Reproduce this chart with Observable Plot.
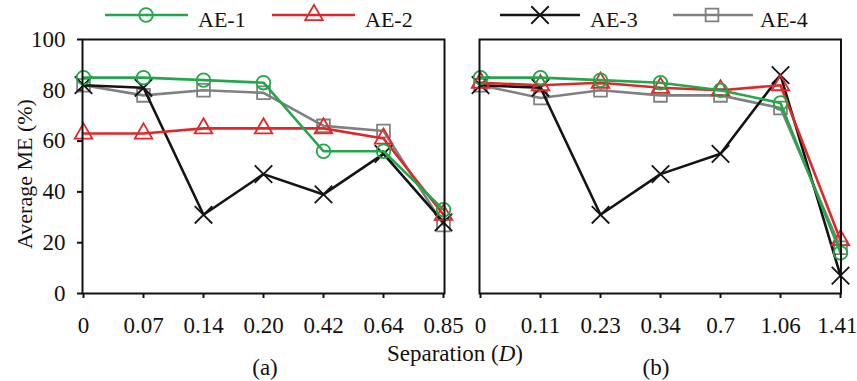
<!DOCTYPE html>
<html>
<head>
<meta charset="utf-8">
<script src="https://cdn.jsdelivr.net/npm/d3@7"></script>
<script src="https://cdn.jsdelivr.net/npm/@observablehq/plot@0.6"></script>
<style>
  html, body { margin: 0; padding: 0; background: #fff; }
  #wrap { position: relative; width: 857px; height: 381px; overflow: hidden; background: #fff; font-family: "Liberation Serif", "Times New Roman", serif; }
  #wrap svg { position: absolute; top: 0; overflow: visible; }
  #wrap svg g[aria-label^="x-axis"] line, #wrap svg g[aria-label^="x-axis"] path,
  #wrap svg g[aria-label^="y-axis"] line, #wrap svg g[aria-label^="y-axis"] path { stroke-width: 2px; }
</style>
</head>
<body>
<div id="wrap"></div>
<script>
// ---- data ----
const seriesNames = ["AE-1", "AE-2", "AE-3", "AE-4"];
const sepA = ["0", "0.07", "0.14", "0.20", "0.42", "0.64", "0.85"];
const sepB = ["0", "0.11", "0.23", "0.34", "0.7", "1.06", "1.41"];
const yTicks = [0, 20, 40, 60, 80, 100];

const a_AE1 = [85, 85, 84, 83, 56, 56, 33];
const a_AE2 = [63, 63, 65, 65, 65, 61, 31];
const a_AE3 = [82, 81, 31, 47, 39, 55, 28];
const a_AE4 = [82, 78, 80, 79, 66, 64, 27];

const b_AE1 = [85, 85, 84, 83, 80, 75, 16];
const b_AE2 = [83, 82, 83, 81, 80, 82, 21];
const b_AE3 = [82, 81, 31, 47, 55, 86, 7];
const b_AE4 = [82, 77, 80, 78, 78, 73, 18];

const xLabel = "Separation (";
const xLabelVar = "D";
const yLabel = "Average ME (%)";
const panelLabels = ["(a)", "(b)"];

// ---- styles ----
const colors = ["#22a84a", "#e0282a", "#141414", "#808080"];
const symbols = ["circle", "triangle", "times", "square"];
const radii = [6.8, 6.5, 8, 7.2];
const drawOrder = [3, 2, 1, 0];

function rows(cats, arrays) {
  const out = [];
  arrays.forEach((vals, i) => vals.forEach((v, j) => out.push({sep: cats[j], me: v, s: seriesNames[i], i})));
  return out;
}

function panel(cats, arrays, opts) {
  const data = rows(cats, arrays);
  const marks = [];
  for (const i of drawOrder) {
    const d = data.filter(r => r.i === i);
    marks.push(Plot.line(d, {x: "sep", y: "me", stroke: colors[i], strokeWidth: 2.6}));
    marks.push(Plot.dot(d, {x: "sep", y: "me", symbol: () => symbols[i], r: radii[i], stroke: colors[i], strokeWidth: 1.8, fill: "none"}));
  }
  marks.push(Plot.frame({stroke: "#111", strokeWidth: 2}));
  return Plot.plot({
    width: opts.width,
    height: 381,
    marginLeft: opts.ml,
    marginRight: opts.mr,
    marginTop: 39,
    marginBottom: 88,
    style: {fontFamily: '"Liberation Serif", "Times New Roman", serif', fontSize: "23px", color: "#111", background: "transparent", overflow: "visible"},
    x: {type: "point", domain: cats, padding: 0, label: null, tickSize: 5, tickPadding: 18},
    y: opts.showY
      ? {domain: [0, 100], ticks: yTicks, label: null, tickSize: 5, tickPadding: 12}
      : {domain: [0, 100], axis: null},
    symbol: {type: "identity"},
    marks
  });
}

const wrap = document.getElementById("wrap");
const svgA = panel(sepA, [a_AE1, a_AE2, a_AE3, a_AE4], {width: 462, ml: 82, mr: 18, showY: true});
svgA.style.left = "0px";
wrap.appendChild(svgA);
const svgB = panel(sepB, [b_AE1, b_AE2, b_AE3, b_AE4], {width: 417, ml: 39, mr: 16.5, showY: false});
svgB.style.left = "440px";
wrap.appendChild(svgB);

// keep the last tick label of panel (b) inside the page edge
d3.select(svgB).selectAll("text").filter(function () { return this.textContent === sepB[sepB.length - 1]; })
  .attr("text-anchor", "end").attr("dx", "17");

// ---- overlay: legend and labels ----
const ov = d3.select(wrap).append("svg")
  .attr("width", 857).attr("height", 381)
  .style("left", "0px").style("pointer-events", "none")
  .style("font-family", '"Liberation Serif", "Times New Roman", serif');

const d3sym = {circle: d3.symbolCircle, triangle: d3.symbolTriangle, times: d3.symbolTimes, square: d3.symbolSquare};
const legendPos = [
  {x0: 105, x1: 188, m: 146, t: 198},
  {x0: 272, x1: 355, m: 314, t: 365},
  {x0: 500, x1: 580, m: 540, t: 590},
  {x0: 673, x1: 753, m: 712, t: 760}
];
seriesNames.forEach((name, i) => {
  const p = legendPos[i];
  const g = ov.append("g");
  g.append("line").attr("x1", p.x0).attr("x2", p.x1).attr("y1", 15).attr("y2", 15)
    .attr("stroke", colors[i]).attr("stroke-width", 2.6);
  g.append("path").attr("transform", `translate(${p.m},15)`)
    .attr("d", d3.symbol(d3sym[symbols[i]], Math.PI * radii[i] * radii[i])())
    .attr("fill", "none").attr("stroke", colors[i]).attr("stroke-width", 1.8);
  g.append("text").attr("x", p.t).attr("y", 26.5).attr("font-size", 22).attr("fill", "#111").text(name);
});

ov.append("text").attr("transform", "translate(32,174) rotate(-90)")
  .attr("text-anchor", "middle").attr("font-size", 22).attr("fill", "#111").text(yLabel);

const xl = ov.append("text").attr("x", 455).attr("y", 361).attr("text-anchor", "middle")
  .attr("font-size", 23).attr("fill", "#111");
xl.append("tspan").text(xLabel);
xl.append("tspan").attr("font-style", "italic").text(xLabelVar);
xl.append("tspan").text(")");

ov.append("text").attr("x", 265).attr("y", 375).attr("text-anchor", "middle").attr("font-size", 23).attr("fill", "#111").text(panelLabels[0]);
ov.append("text").attr("x", 656).attr("y", 375).attr("text-anchor", "middle").attr("font-size", 23).attr("fill", "#111").text(panelLabels[1]);
</script>
</body>
</html>
